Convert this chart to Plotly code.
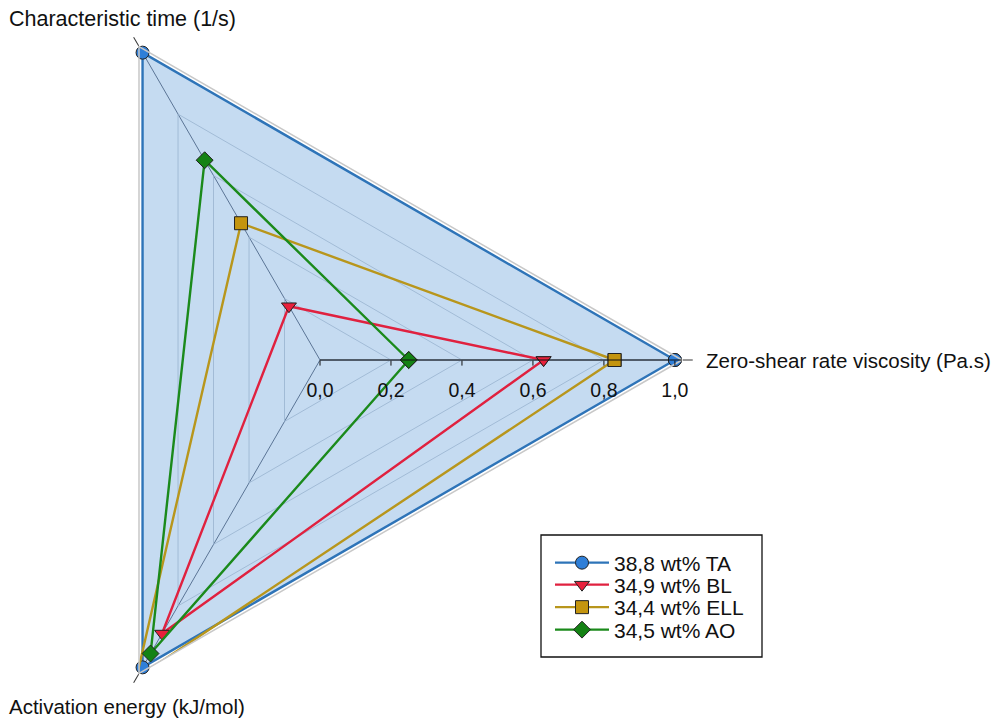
import plotly.graph_objects as go

# ---- data ----
axes_names = ["Zero-shear rate viscosity (Pa.s)", "Characteristic time (1/s)", "Activation energy (kJ/mol)"]
series_names = ["38,8 wt% TA", "34,9 wt% BL", "34,4 wt% ELL", "34,5 wt% AO"]
ta_values = [1.00, 1.00, 1.00]
bl_values = [0.63, 0.175, 0.89]
ell_values = [0.83, 0.445, 1.035]
ao_values = [0.25, 0.65, 0.955]
tick_values = [0.0, 0.2, 0.4, 0.6, 0.8, 1.0]
tick_labels = ["0,0", "0,2", "0,4", "0,6", "0,8", "1,0"]

all_values = [ta_values, bl_values, ell_values, ao_values]
line_colors = ["#2e74b8", "#e0213f", "#b8961c", "#1b8a1b"]
marker_colors = ["#2f7fd8", "#e8203c", "#c4950f", "#148214"]
symbols = ["circle", "triangle-down", "square", "diamond"]

# layout geometry (pixels)
R_OUT = 362          # radius of outer frame (range max)
SHIFT_X = 42
SHIFT_Y = 2
W = 992 + SHIFT_X
H = 740
legend_rows_px = [563, 585, 607.5, 630]

def px(x):
    return (x + SHIFT_X) / W

def py(y):
    return 1 - (y + SHIFT_Y) / H

legend_ids = ["legend", "legend2", "legend3", "legend4"]

fig = go.Figure()
# filled area of the first series (no legend entry)
fig.add_trace(go.Scatterpolar(
    r=ta_values + ta_values[:1],
    theta=axes_names + axes_names[:1],
    mode="lines", fill="toself",
    fillcolor="rgba(150,190,230,0.55)",
    line=dict(width=0, color="rgba(0,0,0,0)"),
    showlegend=False, hoverinfo="skip",
))
for i, (name, vals) in enumerate(zip(series_names, all_values)):
    fig.add_trace(go.Scatterpolar(
        r=vals + vals[:1],
        theta=axes_names + axes_names[:1],
        name=name,
        legend=legend_ids[i],
        mode="lines+markers",
        cliponaxis=False,
        line=dict(color=line_colors[i], width=2.4),
        marker=dict(symbol=symbols[i], size=13,
                    color=marker_colors[i], line=dict(color="#222222", width=1)),
    ))
# invisible trace carrying the overlay polar used for radial tick labels
fig.add_trace(go.Scatterpolar(
    r=tick_values, theta=[axes_names[0]] * len(tick_values),
    subplot="polar2", mode="markers", marker=dict(opacity=0),
    showlegend=False, hoverinfo="skip",
))

dom_w = 2 * R_OUT / W
dom_h = 2 * R_OUT / H
domain = dict(x=[0, dom_w], y=[1 - dom_h, 1])
label_font = dict(size=20.5, color="#111111")

legends = {}
for i, lid in enumerate(legend_ids):
    legends[lid] = dict(
        x=px(550), y=py(legend_rows_px[i]), xanchor="left", yanchor="middle",
        borderwidth=0, bgcolor="rgba(0,0,0,0)",
        font=dict(size=21, color="#111111"), itemwidth=54,
    )

fig.update_layout(
    width=W, height=H,
    margin=dict(l=0, r=0, t=0, b=0),
    paper_bgcolor="white",
    font=dict(family="Liberation Sans, Arial, sans-serif", size=18, color="#111111"),
    showlegend=True,
    shapes=[dict(type="rect", xref="paper", yref="paper",
                 x0=px(541), x1=px(762), y0=py(657), y1=py(535),
                 line=dict(color="#111111", width=1.3), fillcolor="rgba(0,0,0,0)")],
    polar=dict(
        domain=domain,
        gridshape="linear",
        bgcolor="rgba(0,0,0,0)",
        radialaxis=dict(
            range=[0, 1.02], angle=0, side="clockwise",
            tickvals=tick_values, showticklabels=False,
            ticks="outside", ticklen=5, tickcolor="#111111",
            showline=True, linecolor="#111111", linewidth=1.2,
            gridcolor="rgba(150,160,175,0.75)", gridwidth=1,
            layer="above traces",
        ),
        angularaxis=dict(
            rotation=0, direction="counterclockwise",
            showticklabels=False,
            ticks="outside", ticklen=10, tickcolor="#333333", tickwidth=1,
            showline=True, linecolor="#c8c8c8", linewidth=1.5,
            gridcolor="#141c34", gridwidth=1.2,
            layer="above traces",
        ),
    ),
    polar2=dict(
        domain=domain,
        gridshape="linear",
        bgcolor="rgba(0,0,0,0)",
        radialaxis=dict(
            range=[0, 1.02], angle=0, side="clockwise",
            tickvals=tick_values, ticktext=tick_labels, tickangle=0,
            tickfont=dict(size=19.5, color="#111111"),
            ticks="outside", ticklen=13, tickcolor="rgba(0,0,0,0)",
            showline=False, showgrid=False,
        ),
        angularaxis=dict(
            rotation=0, direction="counterclockwise",
            showticklabels=False, ticks="", showline=False, showgrid=False,
        ),
    ),
    annotations=[
        dict(text=axes_names[0], x=px(704), y=py(360),
             xref="paper", yref="paper", xanchor="left", yanchor="middle", showarrow=False,
             font=label_font),
        dict(text=axes_names[1], x=px(122), y=py(19),
             xref="paper", yref="paper", xanchor="center", yanchor="middle", showarrow=False,
             font=dict(size=21.5, color="#111111")),
        dict(text=axes_names[2], x=px(127), y=py(706),
             xref="paper", yref="paper", xanchor="center", yanchor="middle", showarrow=False,
             font=label_font),
    ],
    **legends,
)

post = (
    "document.body.style.margin='0';document.body.style.overflow='hidden';"
    "var gd=document.getElementById('{plot_id}');"
    "gd.style.marginLeft='-%dpx';gd.style.marginTop='-%dpx';" % (SHIFT_X, SHIFT_Y)
)
fig.write_html("out.html", post_script=post, config={"displayModeBar": False})
